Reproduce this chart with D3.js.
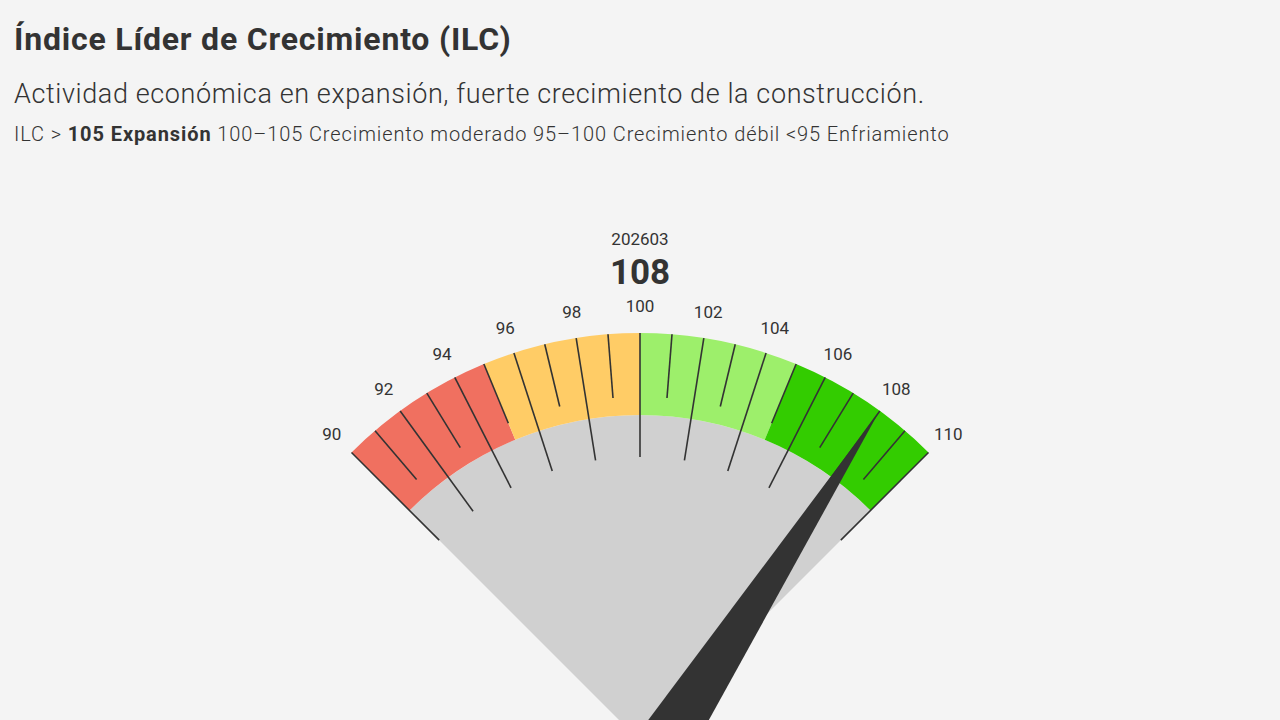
<!DOCTYPE html>
<html><head><meta charset="utf-8">
<script src="https://cdn.jsdelivr.net/npm/d3@7"></script>
<style>
body{margin:0;background:#f4f4f4;font-family:Roboto,"Noto Sans",sans-serif;color:#333}
h1{position:absolute;left:14px;top:20px;margin:0;font-size:32px;font-weight:700;letter-spacing:0.8px}
.sub{position:absolute;left:14px;top:78px;font-size:27px;font-weight:300;letter-spacing:0.6px}
.leg{position:absolute;left:14px;top:122px;font-size:20px;font-weight:300;letter-spacing:0.9px}
.leg b{font-weight:700}
svg{position:absolute;left:0;top:0}
</style></head><body>
<h1>Índice Líder de Crecimiento (ILC)</h1>
<div class="sub">Actividad económica en expansión, fuerte crecimiento de la construcción.</div>
<div class="leg">ILC &gt; <b>105 Expansión</b> 100–105 Crecimiento moderado 95–100 Crecimiento débil &lt;95 Enfriamiento</div>
<svg id="c" width="1280" height="720"></svg>
<script>
const bands = [
  {from: 90, to: 95, color: "#f07060"},
  {from: 95, to: 100, color: "#ffcc66"},
  {from: 100, to: 105, color: "#9def6b"},
  {from: 105, to: 110, color: "#33cc00"}
];
const tickValues = d3.range(90, 111, 1);
const labelValues = d3.range(90, 111, 2);
const period = "202603";
const value = 108;

const cx = 640, cy = 741, rOut = 408, rIn = 326;
const svg = d3.select("#c");
const g = svg.append("g").attr("transform", `translate(${cx},${cy})`);
const a = d3.scaleLinear().domain([90, 110]).range([-Math.PI / 4, Math.PI / 4]);

g.append("path").attr("fill", "#d0d0d0")
  .attr("d", d3.arc()({innerRadius: 0, outerRadius: rIn, startAngle: a(90), endAngle: a(110)}));

g.selectAll(".band").data(bands).join("path")
  .attr("fill", d => d.color)
  .attr("d", d => d3.arc()({innerRadius: rIn, outerRadius: rOut, startAngle: a(d.from), endAngle: a(d.to)}));

g.selectAll(".tick").data(tickValues).join("line")
  .attr("stroke", "#333").attr("stroke-width", 1.6)
  .attr("x1", d => Math.sin(a(d)) * rOut)
  .attr("y1", d => -Math.cos(a(d)) * rOut)
  .attr("x2", d => Math.sin(a(d)) * (d % 2 === 0 ? 284 : 344))
  .attr("y2", d => -Math.cos(a(d)) * (d % 2 === 0 ? 284 : 344));

g.selectAll(".lab").data(labelValues).join("text")
  .attr("x", d => Math.sin(a(d)) * 436)
  .attr("y", d => -Math.cos(a(d)) * 434 + 1)
  .attr("text-anchor", "middle").attr("dominant-baseline", "middle")
  .attr("font-size", 17).attr("fill", "#333").text(d => d);

const va = a(value), hw = 28;
const tip = [Math.sin(va) * 406, -Math.cos(va) * 406];
const px = Math.cos(va) * hw, py = Math.sin(va) * hw;
g.append("path").attr("fill", "#333")
  .attr("d", `M${tip[0]},${tip[1]}L${px + 20},${py + 10}L${-px + 20},${-py + 10}Z`);

svg.append("text").attr("x", cx).attr("y", 245).attr("text-anchor", "middle")
  .attr("font-size", 17).attr("fill", "#333").text(period);
svg.append("text").attr("x", cx).attr("y", 284).attr("text-anchor", "middle")
  .attr("font-size", 35).attr("font-weight", 700).attr("fill", "#333").text(value);
</script>
</body></html>
